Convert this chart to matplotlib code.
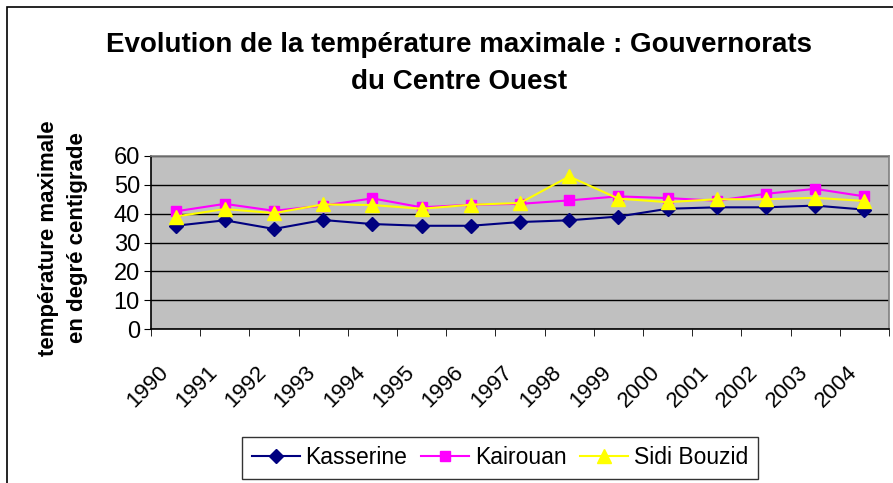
import numpy as np
import matplotlib
matplotlib.use("Agg")
import matplotlib.pyplot as plt
import matplotlib.transforms as mtransforms
from matplotlib.patches import Rectangle

plt.rcParams['font.family'] = ['Liberation Sans', 'DejaVu Sans']

# donnees
years = ["1990", "1991", "1992", "1993", "1994", "1995", "1996", "1997",
         "1998", "1999", "2000", "2001", "2002", "2003", "2004"]
kasserine = [35.8, 37.7, 34.7, 37.8, 36.4, 35.8, 35.8, 37.1,
             37.7, 39.0, 41.7, 42.2, 42.2, 42.8, 41.4]
kairouan = [40.8, 43.4, 41.0, 42.8, 45.3, 42.2, 43.1, 43.4,
            44.6, 46.0, 45.4, 44.5, 46.9, 48.6, 46.0]
sidi_bouzid = [39.0, 41.6, 40.2, 43.2, 43.0, 41.7, 43.1, 43.7,
               52.9, 45.2, 44.0, 45.0, 45.0, 45.5, 44.4]

W, H = 893, 483
fig = plt.figure(figsize=(W / 100, H / 100), dpi=100)

# cadre exterieur
fig.patches.append(Rectangle((7 / W, -0.1), 1.1, 1 - 7 / H + 0.1,
                             transform=fig.transFigure, fill=False,
                             edgecolor="black", linewidth=1.2))

ax = fig.add_axes([151 / W, 1 - 329 / H, (889 - 151) / W, (329 - 156) / H])
ax.set_facecolor("#C0C0C0")

x = np.arange(len(years))
ax.plot(x, kasserine, color="#000080", marker="D", markersize=7.5, lw=1.5,
        label="Kasserine", zorder=3)
ax.plot(x, kairouan, color="#FF00FF", marker="s", markersize=7.5, lw=1.5,
        label="Kairouan", zorder=3)
ax.plot(x, sidi_bouzid, color="#FFFF00", marker="^", markersize=10, lw=1.5,
        label="Sidi Bouzid", zorder=4)

ax.set_xlim(-0.5, len(years) - 0.5)
ax.set_ylim(0, 60)
ax.set_yticks(range(0, 61, 10))
ax.set_xticks(x)
ax.set_xticklabels(years, rotation=45, ha="right", va="top",
                   rotation_mode="anchor", fontsize=16)
ax.set_xticks(np.arange(-0.5, len(years), 1), minor=True)
ax.tick_params(axis="x", which="major", length=0, pad=9)
ax.tick_params(axis="x", which="minor", length=5, direction="out", color="black")
ax.tick_params(axis="y", labelsize=17, length=5, direction="out", pad=3)
ax.grid(axis="y", color="black", linewidth=1)
ax.set_axisbelow(True)

# decale les annees vers le bas et la gauche
shift = mtransforms.ScaledTranslation(-0.18, -0.2, fig.dpi_scale_trans)
for lab in ax.get_xticklabels():
    lab.set_transform(lab.get_transform() + shift)

for side in ["top", "right"]:
    ax.spines[side].set_color("#808080")
    ax.spines[side].set_linewidth(1.2)
for side in ["left", "bottom"]:
    ax.spines[side].set_color("black")
    ax.spines[side].set_linewidth(1.2)

fig.text(459 / W, 1 - 45 / H, "Evolution de la température maximale : Gouvernorats",
         ha="center", va="center", fontsize=20, fontweight="bold")
fig.text(459 / W, 1 - 82 / H, "du Centre Ouest",
         ha="center", va="center", fontsize=20, fontweight="bold")
fig.text(63 / W, 1 - 238 / H, "température maximale\nen degré centigrade",
         ha="center", va="center", rotation=90, fontsize=16,
         fontweight="bold", linespacing=1.45)

leg = fig.legend(loc="center", bbox_to_anchor=(500 / W, 1 - 458 / H), ncol=3,
                 fontsize=16.5, frameon=True, fancybox=False, edgecolor="black",
                 handlelength=2.1, handletextpad=0.25, columnspacing=0.6,
                 borderpad=0.4)
leg.get_frame().set_linewidth(1)

fig.savefig("out.png", dpi=100)
